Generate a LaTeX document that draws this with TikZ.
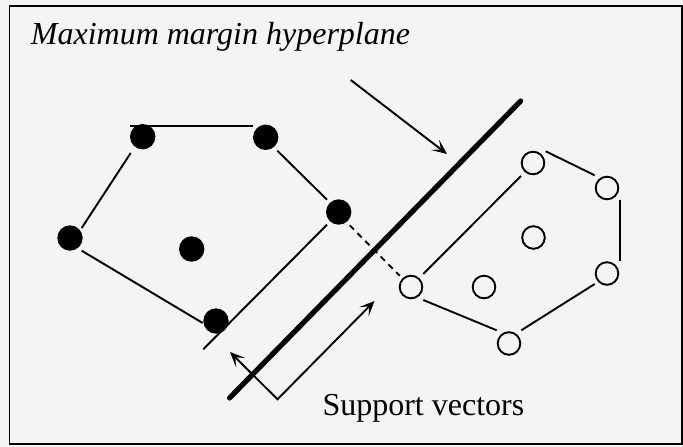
\documentclass[tikz,border=0pt]{standalone}
\usepackage{fontspec}
\setmainfont{Liberation Serif}
\usetikzlibrary{arrows.meta,calc}
\definecolor{paper}{RGB}{244,244,244}
\tikzset{barb/.tip={Stealth[length=15pt,width=13pt,inset=7.5pt]}}
\begin{document}
\begin{tikzpicture}[x=1pt,y=-1pt,
  edge/.style={line width=1.9pt},
  classA/.style={circle, fill=black, inner sep=0pt, minimum size=25.4pt},
  classB/.style={circle, draw=black, line width=1.9pt, fill=paper, inner sep=0pt, minimum size=22.6pt},
  hyper/.style={line width=5.2pt, line cap=round},
  label/.style={inner sep=0pt, anchor=base west, font=\fontsize{32}{38}\selectfont}]

% paper and frame
\fill[paper] (0,0) rectangle (683,447);
\useasboundingbox (0,0) rectangle (683,447);
\draw[line width=1.6pt] (9.3,6) rectangle (682,443.7);

\node[label, font=\fontsize{32}{38}\selectfont\itshape] (title) at (30.7,44) {Maximum margin hyperplane};

% filled class
\coordinate (A) at (142.7,136.7);
\coordinate (B) at (265.7,137.3);
\coordinate (C) at (338.7,212);
\coordinate (D) at (70,238);
\coordinate (E) at (191.7,249);
\coordinate (F) at (216,321);
% open class
\coordinate (G) at (411,287);
\coordinate (H) at (533,163);
\coordinate (I) at (607,188);
\coordinate (J) at (533.5,237.5);
\coordinate (K) at (607,273.5);
\coordinate (L) at (484,287);
\coordinate (M) at (509,343.5);

% free ends of lines
\coordinate (lowA) at (203.3,349.3);
\coordinate (hpLow) at (229.5,398);
\coordinate (hpHigh) at (520.7,101);
\coordinate (hpTail) at (350.7,80);
\coordinate (hpTip) at (447,154);
\coordinate (svCorner) at (277.5,399.3);
\coordinate (svLeft) at (230,352);
\coordinate (svRight) at (374.5,301);

% hull edges of the filled class
\draw[edge] ($(A)+(-12.7,-10.7)$) -- ($(B)+(-12.7,-11.3)$);
\draw[edge] ($(A)+(-12,16.3)$) -- ($(D)+(11.7,-10)$);
\draw[edge] ($(D)+(11.7,12.7)$) -- ($(F)+(-13.3,2)$);
\draw[edge] ($(B)+(11.6,13.4)$) -- ($(C)+(-11.7,-12.3)$);
\draw[edge] ($(C)+(-11.7,12.7)$) -- (lowA);

% hull edges of the open class
\draw[edge] ($(G)+(12.3,-13)$) -- ($(H)+(-12,13)$);
\draw[edge] ($(H)+(12.7,-11.7)$) -- ($(I)+(-12.3,-12.7)$);
\draw[edge] ($(I)+(12.7,11.7)$) -- ($(K)+(12.7,-12.2)$);
\draw[edge] ($(K)+(-12.3,10.5)$) -- ($(M)+(12.3,-13.2)$);
\draw[edge] ($(G)+(12.3,13)$) -- ($(M)+(-12.3,-13.2)$);

% shortest link between the hulls
\draw[edge, dash pattern=on 6pt off 5pt] ($(C)+(11,13.3)$) -- ($(G)+(-11.3,-11.3)$);

% the hyperplane and its pointer
\draw[hyper] (hpLow) -- (hpHigh);
\draw[edge, -barb] (hpTail) -- (hpTip);

% support vector pointers
\draw[edge, barb-barb] (svLeft) -- (svCorner) -- (svRight);

% points
\foreach \p in {A,B,C,D,E,F} \node[classA] (n\p) at (\p) {};
\foreach \p in {G,H,I,J,K,L,M} \node[classB] (n\p) at (\p) {};

\node[label] (sv) at (322.3,415.3) {Support vectors};
\end{tikzpicture}
\end{document}
